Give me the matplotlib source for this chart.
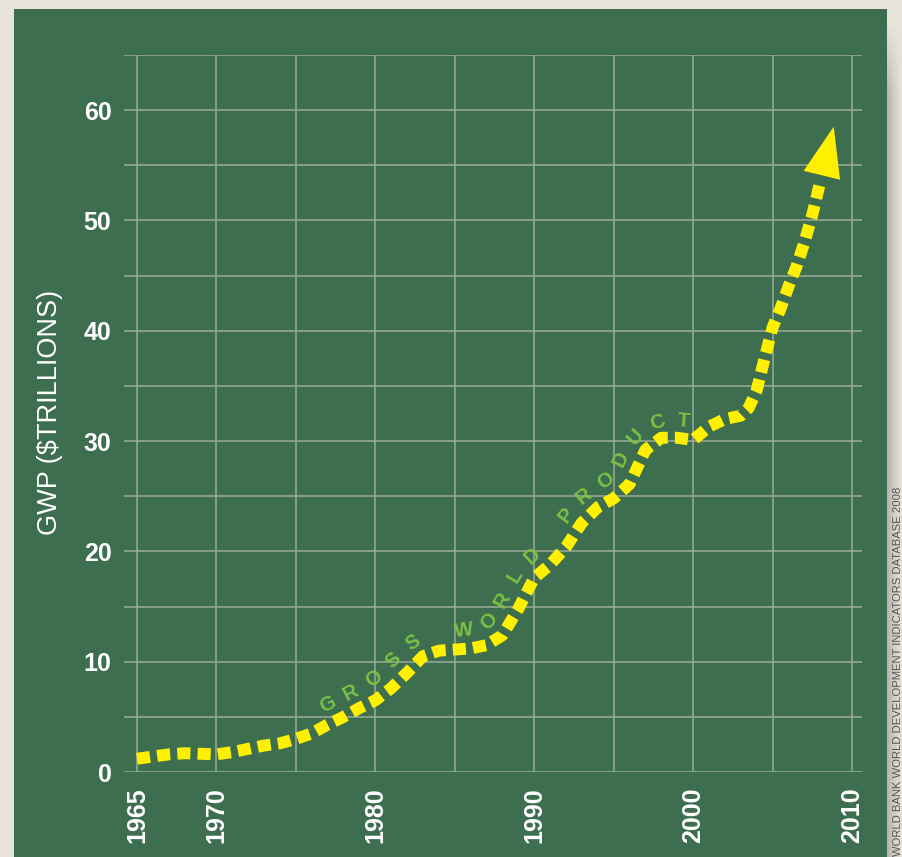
import numpy as np
import matplotlib
matplotlib.use("Agg")
import matplotlib.pyplot as plt
from matplotlib.patches import Rectangle

# Gross world product, trillions of US$
years = [1965, 1966, 1967, 1968, 1969, 1970, 1971, 1972, 1973, 1974,
         1975, 1976, 1977, 1978, 1979, 1980, 1981, 1982, 1983, 1984,
         1985, 1986, 1987, 1988, 1989, 1990, 1991, 1992, 1993, 1994,
         1995, 1996, 1997, 1998, 1999, 2000, 2001, 2002, 2003, 2003.5,
         2004, 2004.5, 2005, 2005.5, 2006, 2006.5, 2007, 2007.5, 2008]
gwp = [1.2, 1.4, 1.6, 1.7, 1.65, 1.6, 1.8, 2.1, 2.4, 2.6,
       3.0, 3.5, 4.3, 5.0, 5.8, 6.5, 7.6, 9.0, 10.5, 11.0,
       11.1, 11.2, 11.5, 12.4, 14.8, 17.6, 18.8, 20.4, 22.6, 24.0,
       24.8, 26.1, 29.2, 30.3, 30.3, 30.1, 31.3, 32.0, 32.3, 33.0,
       34.6, 37.5, 40.3, 42.0, 44.0, 45.8, 48.0, 50.5, 53.5]
arrow_tip = (2008.85, 58.5)

grid_years = [1965, 1970, 1975, 1980, 1985, 1990, 1995, 2000, 2005, 2010]
year_labels = ['1965', '1970', '', '1980', '', '1990', '', '2000', '', '2010']
grid_values = list(range(0, 66, 5))
value_labels = ['0', '', '10', '', '20', '', '30', '', '40', '', '50', '', '60', '']

curve_text = "GROSS WORLD PRODUCT"
ylabel = "GWP ($TRILLIONS)"
source = "WORLD BANK WORLD DEVELOPMENT INDICATORS DATABASE 2008"

BEIGE = '#e8e4d9'
GREEN = '#3d6e50'
YELLOW = '#fff000'
LIGHT_GREEN = '#7dc142'
GRID = '#9aab9a'

plt.rcParams['font.family'] = ['Liberation Sans', 'DejaVu Sans']

W, H = 903, 857
fig = plt.figure(figsize=(W / 100, H / 100), dpi=100, facecolor=BEIGE)

# green panel, drawn underneath everything
fig.patches.append(Rectangle((14 / W, 0), (887 - 14) / W, 1 - 9 / H,
                             transform=fig.transFigure, facecolor=GREEN,
                             edgecolor='none', zorder=-10))

# drop shadow on the right of the panel
sh = fig.add_axes([887 / W, 0, 16 / W, 835 / H])
sh.axis('off')
nx, ny = 40, 200
gx = np.linspace(0, 1, nx)[None, :]
gy = np.clip(np.linspace(0, 1, ny)[:, None] * 12, 0, 1)
shade = (1 - gx) ** 1.3 * gy
c0 = np.array([0.71, 0.70, 0.67])
c1 = np.array(matplotlib.colors.to_rgb(BEIGE))
img = c1 + (c0 - c1) * shade[..., None]
sh.imshow(img[::-1], aspect='auto', extent=[0, 1, 0, 1], origin='lower')

ax = fig.add_axes([124 / W, 1 - 772 / H, (862 - 124) / W, (772 - 55) / H])
ax.set_facecolor('none')
ax.set_xlim(1965 - 13 / 15.89, 2010 + 10 / 15.89)
ax.set_ylim(0, 65)
for s in ax.spines.values():
    s.set_visible(False)

ax.set_xticks(grid_years)
ax.set_xticklabels(year_labels, rotation=90, va='top')
ax.set_yticks(grid_values)
ax.set_yticklabels(value_labels)
ax.tick_params(length=0, labelcolor='white', labelsize=18)
ax.tick_params(axis='x', pad=11)
ax.tick_params(axis='y', pad=9)
for lab in ax.get_xticklabels() + ax.get_yticklabels():
    lab.set_fontweight('bold')
ax.grid(True, color=GRID, lw=1.1)
ax.set_axisbelow(True)

ax.plot(years, gwp, color=YELLOW, lw=8.6, ls=(0, (1.1, 0.6)),
        dash_capstyle='butt', solid_joinstyle='miter', zorder=3)
ax.annotate('', xy=arrow_tip, xytext=(years[-1], gwp[-1]),
            arrowprops=dict(arrowstyle='-|>,head_length=3.6,head_width=1.35',
                            color=YELLOW, lw=0, shrinkA=0, shrinkB=0,
                            mutation_scale=10),
            zorder=4)


def smooth(a, k):
    ker = np.ones(k) / k
    pad = np.pad(a, (k // 2, k - 1 - k // 2), mode='edge')
    return np.convolve(pad, ker, mode='valid')


# lettering that follows the curve: resample the line in pixels, shift it
# sideways, smooth, then space the letters evenly along the shifted path
pts = ax.transData.transform(np.column_stack([years, gwp]))
seg = np.hypot(*np.diff(pts, axis=0).T)
arc = np.concatenate([[0], np.cumsum(seg)])
a0 = np.interp(1976.6, years, arc)
a1 = np.interp(2000.0, years, arc)
ss = np.arange(a0, a1, 1.0)
px = smooth(np.interp(ss, arc, pts[:, 0]), 15)
py = smooth(np.interp(ss, arc, pts[:, 1]), 15)
tx, ty = np.gradient(px), np.gradient(py)
nrm = np.hypot(tx, ty)
tx, ty = tx / nrm, ty / nrm
off = 18
ox = smooth(px - ty * off, 21)
oy = smooth(py + tx * off, 21)
oarc = np.concatenate([[0], np.cumsum(np.hypot(np.diff(ox), np.diff(oy)))])
ang = np.degrees(np.arctan2(np.gradient(oy), np.gradient(ox)))

# letter centres measured along the shifted path
o_start = np.interp(np.interp(1977.5, years, arc), ss, oarc)
o_end = np.interp(np.interp(1999.3, years, arc), ss, oarc)
step = (o_end - o_start) / (len(curve_text) - 1)
inv = ax.transData.inverted()
for i, ch in enumerate(curve_text):
    if ch == ' ':
        continue
    s = o_start + i * step
    x, y = inv.transform((np.interp(s, oarc, ox), np.interp(s, oarc, oy)))
    ax.text(x, y, ch, color=LIGHT_GREEN, fontsize=14.5, fontweight='bold',
            rotation=np.interp(s, oarc, ang), rotation_mode='anchor',
            ha='center', va='center', zorder=5)

fig.text(50 / W, 1 - 412 / H, ylabel, rotation=90, ha='center', va='center',
         color='white', fontsize=19.5)
fig.text(898 / W, 1 - 487 / H, source, rotation=90, ha='center', va='top',
         color='#555555', fontsize=8.1)

fig.savefig('out.png', dpi=100, facecolor=BEIGE)
